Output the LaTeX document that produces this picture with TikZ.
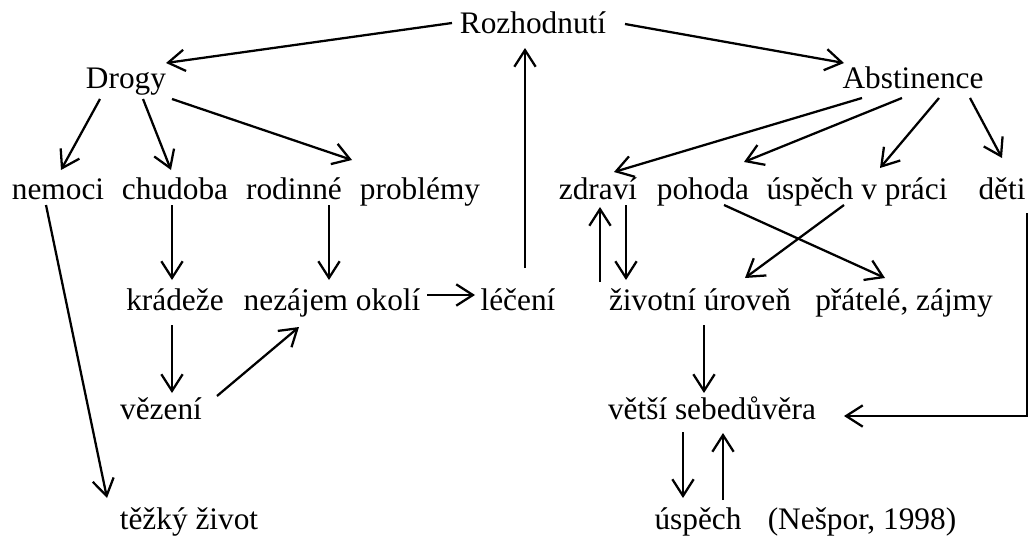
\documentclass[tikz,border=0pt]{standalone}
\usepackage{fontspec}
\setmainfont{Liberation Serif}
\usetikzlibrary{arrows.meta,calc}
\tikzset{
    word/.style={anchor=base, inner sep=0pt, font=\fontsize{23.5}{28}\selectfont},
    arr/.style={-{Straight Barb[length=12.5pt,width=16pt]}, line width=1.7pt},
}

\begin{document}
\begin{tikzpicture}[x=0.75pt,y=-0.75pt]
\useasboundingbox (0,0) rectangle (1032,539);

\node[word] (rozh) at (533,33) {Rozhodnutí};
\node[word] (drogy) at (126,88) {Drogy};
\node[word] (abst) at (913,88) {Abstinence};

\node[word] (nemoci) at (58,199) {nemoci};
\node[word] (chudoba) at (175,199) {chudoba};
\node[word] (rodinne) at (294,199) {rodinné};
\node[word] (problemy) at (420,199) {problémy};
\node[word] (zdravi) at (598,199) {zdraví};
\node[word] (pohoda) at (703,199) {pohoda};
\node[word] (prace) at (857,199) {úspěch v práci};
\node[word] (deti) at (1002,199) {děti};

\node[word] (kradeze) at (175,310) {krádeže};
\node[word] (nezajem) at (332,310) {nezájem okolí};
\node[word] (leceni) at (518,310) {léčení};
\node[word] (zivotni) at (700,310) {životní úroveň};
\node[word] (pratele) at (904,310) {přátelé, zájmy};

\node[word] (vezeni) at (161,419) {vězení};
\node[word] (vetsi) at (712,419) {větší sebedůvěra};

\node[word] (tezky) at (189,529) {těžký život};
\node[word] (uspech) at (698,529) {úspěch};
\node[word] (nespor) at (862,529) {(Nešpor, 1998)};

\draw[arr] ($(rozh.base)+(-81,-10)$) -- ($(drogy.base)+(40,-25)$);
\draw[arr] ($(rozh.base)+(92,-9)$) -- ($(abst.base)+(-69,-25)$);

\draw[arr] ($(drogy.base)+(-26,11)$) -- ($(nemoci.base)+(3,-29)$);
\draw[arr] ($(drogy.base)+(17,11)$) -- ($(chudoba.base)+(-4,-29)$);
\draw[arr] ($(drogy.base)+(46,11)$) -- ($(problemy.base)+(-68,-39)$);

\draw[arr] ($(chudoba.base)+(-3,6)$) -- ($(kradeze.base)+(-3,-30)$);
\draw[arr] ($(rodinne.base)+(35,6)$) -- ($(nezajem.base)+(-3,-30)$);
\draw[arr] ($(nemoci.base)+(-12,6)$) -- ($(tezky.base)+(-82,-31)$);
\draw[arr] ($(kradeze.base)+(-3,15)$) -- ($(vezeni.base)+(11,-26)$);
\draw[arr] ($(vezeni.base)+(56,-23)$) -- ($(nezajem.base)+(-33,17)$);
\draw[arr] ($(nezajem.base)+(95,-15)$) -- ($(leceni.base)+(-43,-15)$);
\draw[arr] ($(leceni.base)+(7,-42)$) -- ($(rozh.base)+(-8,15)$);

\draw[arr] ($(abst.base)+(-51,10)$) -- ($(zdravi.base)+(16,-27)$);
\draw[arr] ($(abst.base)+(-11,10)$) -- ($(pohoda.base)+(41,-37)$);
\draw[arr] ($(abst.base)+(26,10)$) -- ($(prace.base)+(23,-31)$);
\draw[arr] ($(abst.base)+(57,10)$) -- ($(deti.base)+(0,-41)$);

\draw[arr] ($(zivotni.base)+(-100,-28)$) -- ($(zdravi.base)+(2,8)$);
\draw[arr] ($(zdravi.base)+(28,6)$) -- ($(zivotni.base)+(-74,-30)$);
\draw[arr] ($(pohoda.base)+(21,6)$) -- ($(pratele.base)+(-19,-32)$);
\draw[arr] ($(prace.base)+(-13,6)$) -- ($(zivotni.base)+(45,-32)$);
\draw[arr] ($(deti.base)+(25,14)$) |- ($(vetsi.base)+(132,-3)$);
\draw[arr] ($(zivotni.base)+(4,15)$) -- ($(vetsi.base)+(-8,-26)$);

\draw[arr] ($(vetsi.base)+(-29,13)$) -- ($(uspech.base)+(-15,-31)$);
\draw[arr] ($(uspech.base)+(25,-29)$) -- ($(vetsi.base)+(11,14)$);
\end{tikzpicture}
\end{document}
